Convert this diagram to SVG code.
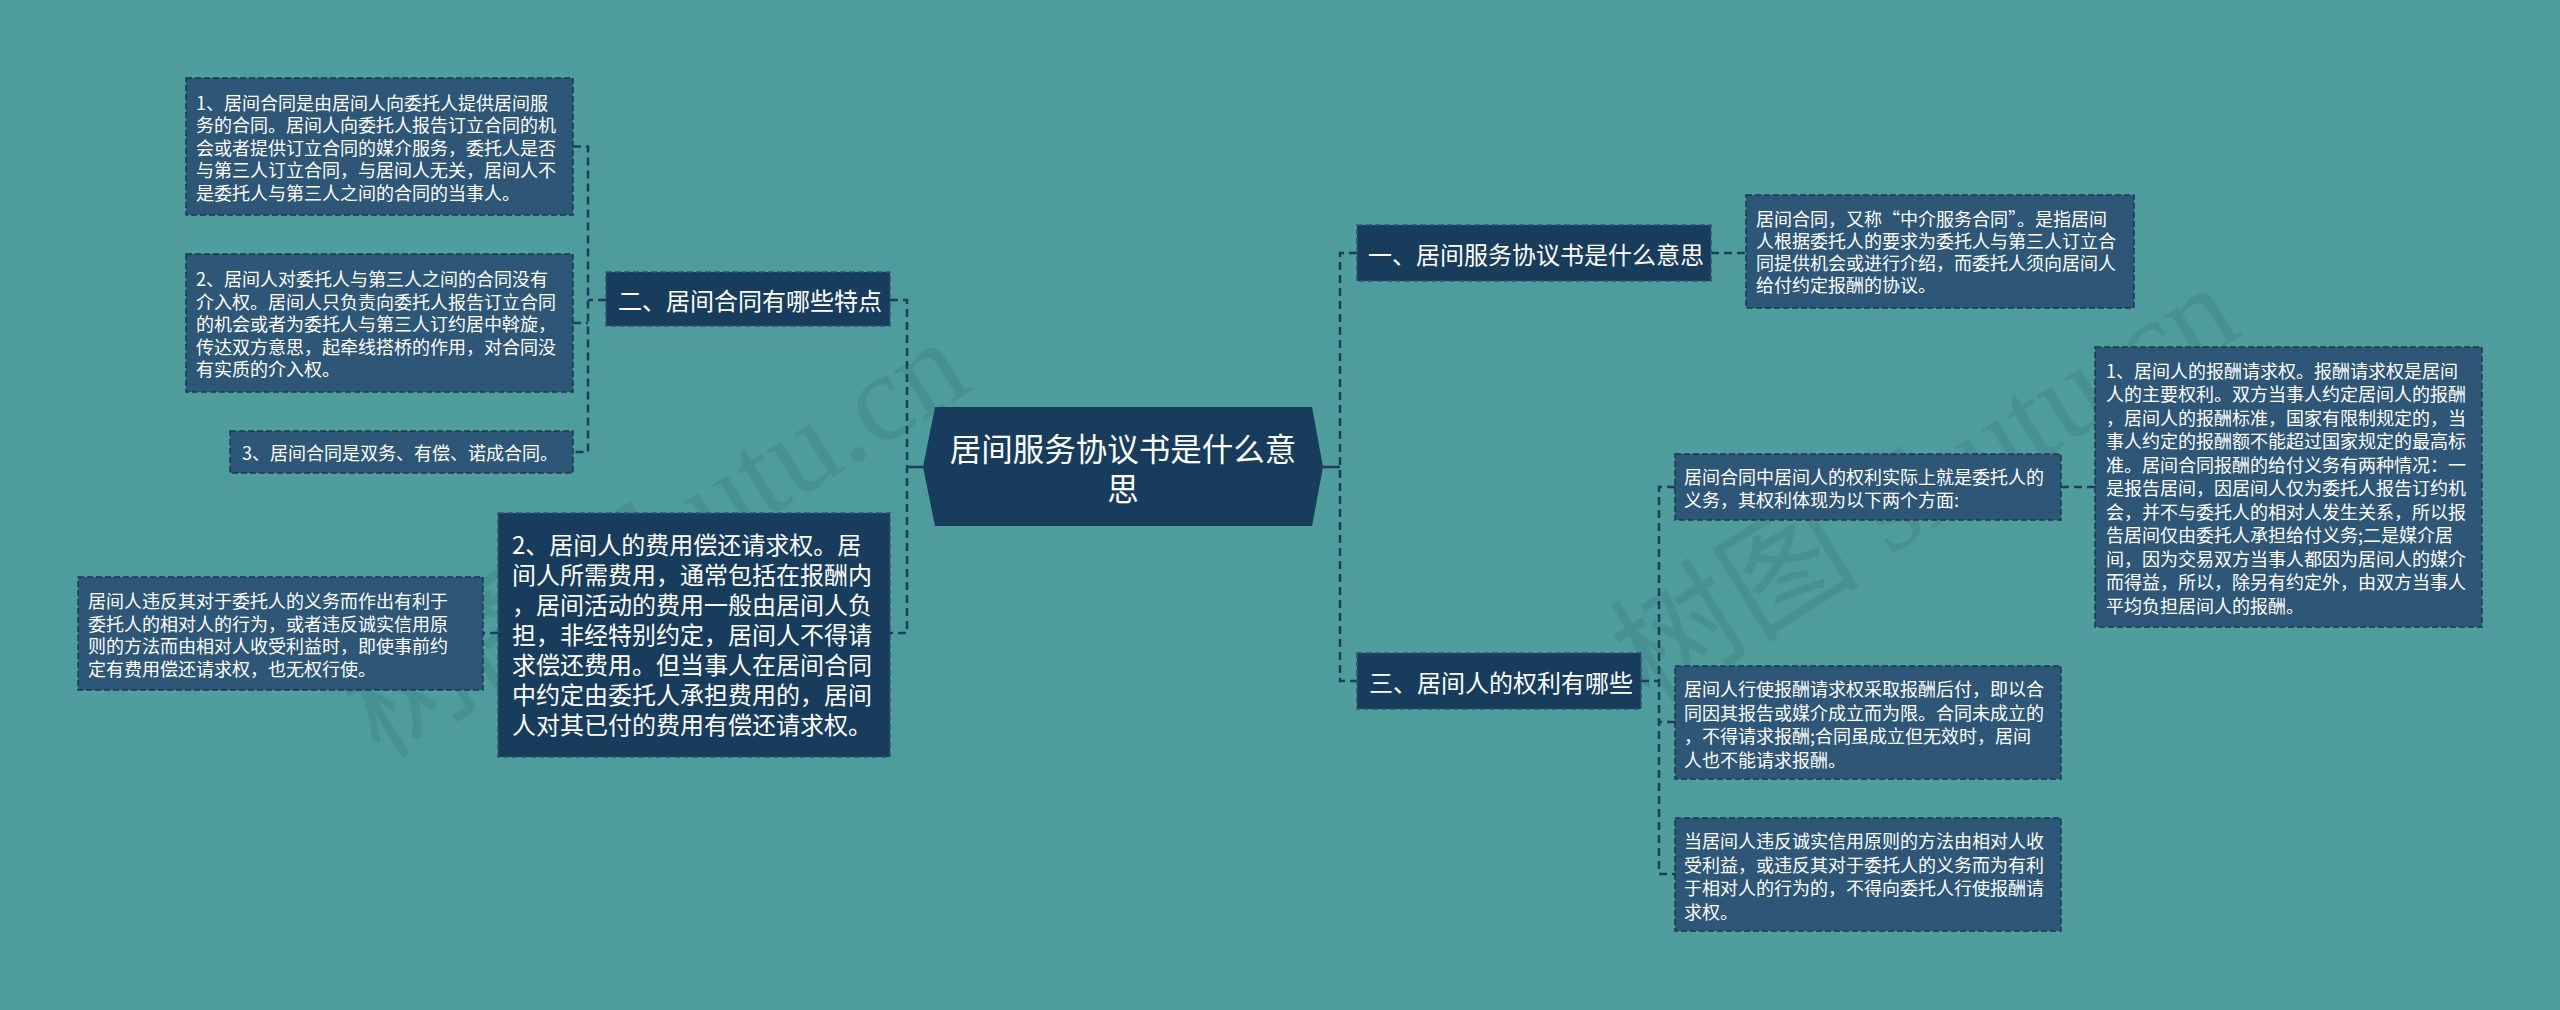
<svg xmlns="http://www.w3.org/2000/svg" width="2560" height="1010" viewBox="0 0 2560 1010">
<defs>
<style>
text{font-family:"Noto Sans CJK SC","Microsoft YaHei",sans-serif;fill:#ffffff;dominant-baseline:central}
.t18{font-size:18px}
.t24{font-size:24px}
.root{font-size:31.5px;text-anchor:middle}
.b1{fill:#183d5c;stroke:#2f5676;stroke-width:1.5;stroke-dasharray:6 3}
.b2{fill:#2d5677;stroke:#1a3a55;stroke-width:1.5;stroke-dasharray:6 3}
.c{fill:none;stroke:#1a3e5c;stroke-width:2.5;stroke-dasharray:8 5}
.s{fill:none;stroke:#1a3e5c;stroke-width:2.5}
.wm{font-family:"Liberation Serif","Noto Sans CJK SC",serif;font-size:125px;fill:#244f5e;opacity:0.13;dominant-baseline:auto}
</style>
</defs>
<rect width="2560" height="1010" fill="#4e9c9c"/>
<g id="watermarks">
<text class="wm" x="380" y="760" transform="rotate(-32 380 760)">树图 shutu.cn</text>
<text class="wm" x="1650" y="705" transform="rotate(-32 1650 705)">树图 shutu.cn</text>
</g>
<g id="connectors">
<path class="s" d="M923 467H907"/>
<path class="c" d="M890 300H907V633H890"/>
<path class="c" d="M606 300H588"/>
<path class="c" d="M573 146.5H588V452H573"/>
<path class="c" d="M573 323H588"/>
<path class="c" d="M498 633H483"/>
<path class="s" d="M1323 467H1340"/>
<path class="c" d="M1357 253H1340V681H1357"/>
<path class="c" d="M1711 253H1746"/>
<path class="c" d="M1641 681H1659"/>
<path class="c" d="M1675 487H1659V874H1675"/>
<path class="c" d="M1675 722H1659"/>
<path class="c" d="M2061 487H2095"/>
</g>
<g id="root">
<polygon points="935,407 1312,407 1323,467 1312,526 935,526 923,467" fill="#183d5c"/>
<text class="root"><tspan x="1123" y="447">居间服务协议书是什么意</tspan><tspan x="1123" y="487">思</tspan></text>
</g>
<g id="n2">
<rect class="b1" x="606" y="272" width="284" height="54"/>
<text class="t24" x="618" y="299">二、居间合同有哪些特点</text>
</g>
<g id="n2-1">
<rect class="b2" x="186" y="78" width="387" height="137"/>
<text class="t18"><tspan x="196" y="101.5">1、居间合同是由居间人向委托人提供居间服</tspan><tspan x="196" y="124">务的合同。居间人向委托人报告订立合同的机</tspan><tspan x="196" y="146.5">会或者提供订立合同的媒介服务，委托人是否</tspan><tspan x="196" y="169">与第三人订立合同，与居间人无关，居间人不</tspan><tspan x="196" y="191.5">是委托人与第三人之间的合同的当事人。</tspan></text>
</g>
<g id="n2-2">
<rect class="b2" x="186" y="254" width="387" height="138"/>
<text class="t18"><tspan x="196" y="278">2、居间人对委托人与第三人之间的合同没有</tspan><tspan x="196" y="300.5">介入权。居间人只负责向委托人报告订立合同</tspan><tspan x="196" y="323">的机会或者为委托人与第三人订约居中斡旋，</tspan><tspan x="196" y="345.5">传达双方意思，起牵线搭桥的作用，对合同没</tspan><tspan x="196" y="368">有实质的介入权。</tspan></text>
</g>
<g id="n2-3">
<rect class="b2" x="230" y="431" width="343" height="42"/>
<text class="t18" x="242" y="452">3、居间合同是双务、有偿、诺成合同。</text>
</g>
<g id="n4">
<rect class="b1" x="498" y="513" width="392" height="244"/>
<text class="t24"><tspan x="512" y="543">2、居间人的费用偿还请求权。居</tspan><tspan x="512" y="573">间人所需费用，通常包括在报酬内</tspan><tspan x="512" y="603">，居间活动的费用一般由居间人负</tspan><tspan x="512" y="633">担，非经特别约定，居间人不得请</tspan><tspan x="512" y="663">求偿还费用。但当事人在居间合同</tspan><tspan x="512" y="693">中约定由委托人承担费用的，居间</tspan><tspan x="512" y="723">人对其已付的费用有偿还请求权。</tspan></text>
</g>
<g id="n4-1">
<rect class="b2" x="78" y="577" width="405" height="113"/>
<text class="t18"><tspan x="88" y="600">居间人违反其对于委托人的义务而作出有利于</tspan><tspan x="88" y="622.5">委托人的相对人的行为，或者违反诚实信用原</tspan><tspan x="88" y="645">则的方法而由相对人收受利益时，即使事前约</tspan><tspan x="88" y="667.5">定有费用偿还请求权，也无权行使。</tspan></text>
</g>
<g id="n1">
<rect class="b1" x="1357" y="225" width="354" height="56"/>
<text class="t24" x="1368" y="253">一、居间服务协议书是什么意思</text>
</g>
<g id="n1-1">
<rect class="b2" x="1746" y="195" width="388" height="113"/>
<text class="t18"><tspan x="1756" y="218">居间合同，又称“中介服务合同”。是指居间</tspan><tspan x="1756" y="240">人根据委托人的要求为委托人与第三人订立合</tspan><tspan x="1756" y="262">同提供机会或进行介绍，而委托人须向居间人</tspan><tspan x="1756" y="284">给付约定报酬的协议。</tspan></text>
</g>
<g id="n3">
<rect class="b1" x="1357" y="653" width="284" height="56"/>
<text class="t24" x="1369" y="681">三、居间人的权利有哪些</text>
</g>
<g id="n3-1">
<rect class="b2" x="1675" y="454" width="386" height="66"/>
<text class="t18"><tspan x="1684" y="475.5">居间合同中居间人的权利实际上就是委托人的</tspan><tspan x="1684" y="499">义务，其权利体现为以下两个方面:</tspan></text>
</g>
<g id="n3-1-1">
<rect class="b2" x="2095" y="347" width="387" height="280"/>
<text class="t18"><tspan x="2106" y="369.5">1、居间人的报酬请求权。报酬请求权是居间</tspan><tspan x="2106" y="393">人的主要权利。双方当事人约定居间人的报酬</tspan><tspan x="2106" y="416.5">，居间人的报酬标准，国家有限制规定的，当</tspan><tspan x="2106" y="440">事人约定的报酬额不能超过国家规定的最高标</tspan><tspan x="2106" y="463.5">准。居间合同报酬的给付义务有两种情况：一</tspan><tspan x="2106" y="487">是报告居间，因居间人仅为委托人报告订约机</tspan><tspan x="2106" y="510.5">会，并不与委托人的相对人发生关系，所以报</tspan><tspan x="2106" y="534">告居间仅由委托人承担给付义务;二是媒介居</tspan><tspan x="2106" y="557.5">间，因为交易双方当事人都因为居间人的媒介</tspan><tspan x="2106" y="581">而得益，所以，除另有约定外，由双方当事人</tspan><tspan x="2106" y="604.5">平均负担居间人的报酬。</tspan></text>
</g>
<g id="n3-2">
<rect class="b2" x="1675" y="666" width="386" height="113"/>
<text class="t18"><tspan x="1684" y="688">居间人行使报酬请求权采取报酬后付，即以合</tspan><tspan x="1684" y="711.5">同因其报告或媒介成立而为限。合同未成立的</tspan><tspan x="1684" y="735">，不得请求报酬;合同虽成立但无效时，居间</tspan><tspan x="1684" y="758.5">人也不能请求报酬。</tspan></text>
</g>
<g id="n3-3">
<rect class="b2" x="1675" y="818" width="386" height="113"/>
<text class="t18"><tspan x="1684" y="840">当居间人违反诚实信用原则的方法由相对人收</tspan><tspan x="1684" y="863.5">受利益，或违反其对于委托人的义务而为有利</tspan><tspan x="1684" y="887">于相对人的行为的，不得向委托人行使报酬请</tspan><tspan x="1684" y="910.5">求权。</tspan></text>
</g>
</svg>
